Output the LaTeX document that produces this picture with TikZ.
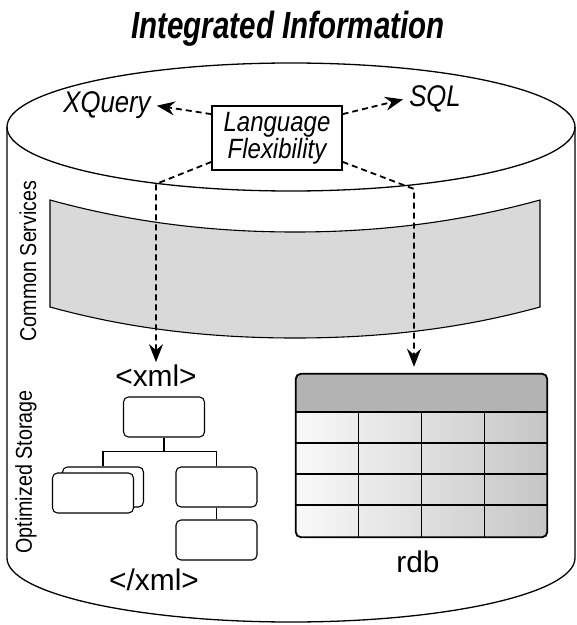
\documentclass[tikz,border=0pt]{standalone}
\usepackage{fontspec}
\setmainfont{Liberation Sans}
\newfontfamily\narrowfont{Liberation Sans}[FakeStretch=0.86]
\newfontfamily\titlefont{Liberation Sans}[FakeStretch=0.78]
\usetikzlibrary{arrows.meta}
\usetikzlibrary{positioning}

\definecolor{bandgray}{HTML}{D9D9D9}
\definecolor{headgray}{HTML}{B3B3B3}

\begin{document}
\begin{tikzpicture}[x=1bp, y=-1bp,
  flow/.style={line width=1.8bp, dash pattern=on 6bp off 4bp, -{Stealth[length=18bp, width=14bp, inset=6bp]}},
  leaf/.style={draw, fill=white, rounded corners=5bp, line width=1.1bp, minimum width=81bp, minimum height=40bp},
  tag/.style={font=\fontsize{30}{32}\selectfont, inner sep=2bp, anchor=base},
  side/.style={rotate=90, font=\narrowfont\fontsize{23}{25}\selectfont, inner sep=0pt},
  lang/.style={font=\narrowfont\itshape\fontsize{30}{32}\selectfont, inner sep=6bp, anchor=base}]

\useasboundingbox (0,0) rectangle (577,625);

% Titulo
\node[font=\titlefont\bfseries\itshape\fontsize{38}{40}\selectfont] (title) at (288,29) {Integrated Information};

% Cilindro
\draw[line width=1.3bp, fill=white] (7,127) -- (7,558) .. controls (7,593) and (134,622) .. (291,622)
  .. controls (448,622) and (575,593) .. (575,558) -- (575,127);
\draw[line width=1.3bp] (291,127) ellipse [x radius=284, y radius=64];

% Banda de servicios
\draw[fill=bandgray, line width=1.1bp] (50,200) .. controls (130,222) and (210,232) .. (295,232)
  .. controls (380,232) and (460,222) .. (540,200) -- (540,307)
  .. controls (460,329) and (380,338) .. (295,338) .. controls (210,338) and (130,329) .. (50,307) -- cycle;

\node[side] (services) at (28,261) {Common Services};
\node[side] (storage) at (26,472) {Optimized Storage};

% Lenguajes
\node[draw, line width=1.1bp, fill=white, minimum width=130bp, minimum height=64bp, align=center,
  inner sep=0pt, font=\narrowfont\itshape\fontsize{28}{27}\selectfont] (langbox) at (277,138) {Language\\Flexibility};
\node[lang] (xq) at (107,113) {XQuery};
\node[lang] (sql) at (435,107) {SQL};

% Arbol xml
\node[tag] (xmlopen) at (156,386) {<xml>};
\node[tag] (xmlclose) at (154,590) {</xml>};
\node[leaf] (top) at (164,417) {};
\node[leaf] (back) at (103,487) {};
\node[leaf] (front) at (93,493) {};
\node[leaf] (right) at (216.5,487) {};
\node[leaf] (bottom) at (216.5,540) {};
\draw[line width=1.1bp] (top.south) -- ++(0,14) -| (back.north);
\draw[line width=1.1bp] (top.south) -- ++(0,14) -| (right.north);
\draw[line width=1.1bp] (right.south) -- (bottom.north);

% Tabla rdb
\node[minimum width=251bp, minimum height=163bp, inner sep=0pt, rounded corners=5bp,
  shade, left color=gray!5, right color=gray!45] (tbl) at (421.5,455.5) {};
\begin{scope}
  \clip[rounded corners=5bp] (tbl.south west) rectangle (tbl.north east);
  \fill[headgray] (tbl.north west) rectangle (547,412);
\end{scope}
\draw[line width=1.8bp] (296,412) -- (547,412);
\foreach \y in {443,474,505}
  \draw[line width=1.2bp] (296,\y) -- (547,\y);
\foreach \x in {358.75,421.5,484.25}
  \draw[line width=1.2bp] (\x,412) -- (\x,537);
\draw[line width=1.8bp, rounded corners=5bp] (tbl.south west) rectangle (tbl.north east);
\node[tag] (rdb) at (418,572) {rdb};

% Flechas
\coordinate (bendL) at (156,184);
\coordinate (bendR) at (414,189);
\draw[flow] (langbox.160) -- (xq.east);
\draw[flow] (langbox.20) -- (sql.west);
\draw[flow] (langbox.200) -- (bendL) -- (bendL |- xmlopen.north);
\draw[flow, shorten >=7bp] (langbox.340) -- (bendR) -- (bendR |- tbl.north);

\end{tikzpicture}
\end{document}
